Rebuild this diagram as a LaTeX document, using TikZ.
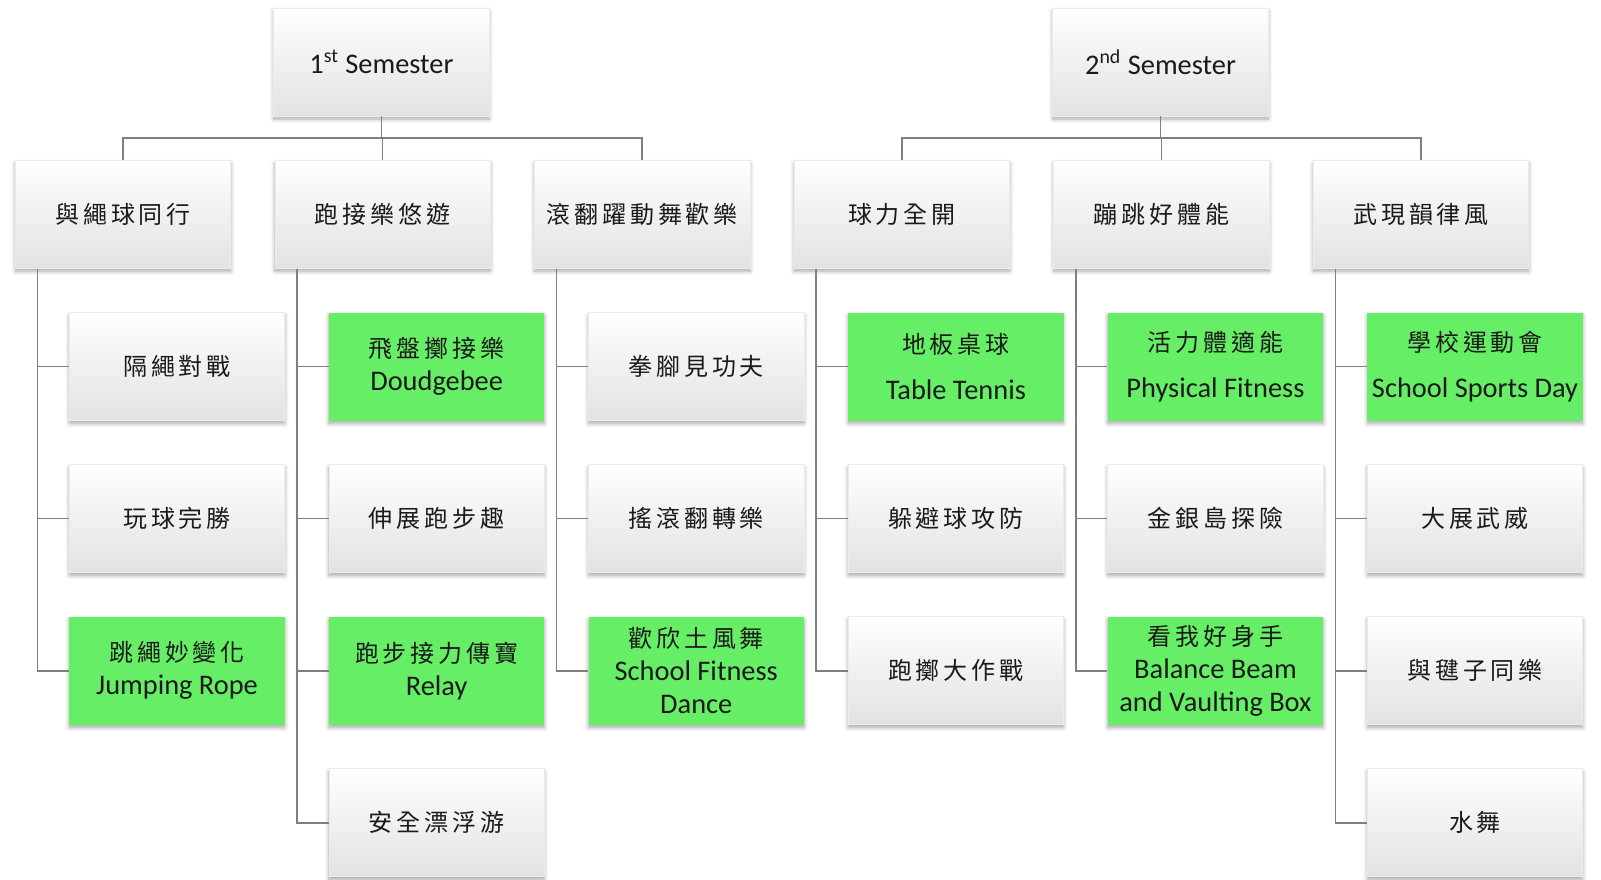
\documentclass[tikz,border=0pt]{standalone}
\usepackage{fontspec}
\setmainfont{Carlito}
\newfontfamily\cjk[LetterSpace=16]{Noto Sans CJK TC}
\usetikzlibrary{shadows.blur}
\definecolor{ink}{HTML}{1A1A1A}
\definecolor{leaf}{HTML}{66EE66}
\definecolor{wire}{HTML}{7F7F7F}
\definecolor{fade}{HTML}{E2E2E2}
\newcommand\zh[1]{{\cjk\fontsize{12}{16.5}\selectfont #1}}
\tikzset{
  box/.style={minimum width=107.75pt, minimum height=54pt, inner sep=1pt, align=center,
    text=ink, font=\fontsize{14.2}{16.5}\selectfont,
    blur shadow={shadow xshift=0pt, shadow yshift=-1.5pt, shadow blur radius=2pt,
      shadow blur steps=6, shadow opacity=35}},
  plain/.style={box, top color=white, middle color=white, bottom color=fade,
    draw=black!8, line width=0.4pt},
  hit/.style={box, fill=leaf},
  link/.style={draw=wire, line width=0.8pt},
}

\begin{document}
\begin{tikzpicture}[x=0.5pt,y=-0.5pt]
  \useasboundingbox (0,0) rectangle (1601,879);
  \def\w{259.6}
  \def\h{152.1}

  % semesters
  \node[plain] (sem1) at (381.4,62) {1\textsuperscript{st} Semester};
  \node[plain] (sem2) at (1160.5,62) {2\textsuperscript{nd} Semester};

  % themes
  \foreach \i/\t in {1/與繩球同行, 2/跑接樂悠遊, 3/滾翻躍動舞歡樂,
                     4/球力全開, 5/蹦跳好體能, 6/武現韻律風}
    \node[plain] (g\i) at ({123.05+(\i-1)*\w},214.3) {\zh{\t}};

  % activities
  \foreach \i/\j/\s/\t in {
      1/1/plain/{\zh{隔繩對戰}},
      1/2/plain/{\zh{玩球完勝}},
      1/3/hit/{\zh{跳繩妙變化}\\Jumping Rope},
      2/1/hit/{\zh{飛盤擲接樂}\\Doudgebee},
      2/2/plain/{\zh{伸展跑步趣}},
      2/3/hit/{\zh{跑步接力傳寶}\\Relay},
      2/4/plain/{\zh{安全漂浮游}},
      3/1/plain/{\zh{拳腳見功夫}},
      3/2/plain/{\zh{搖滾翻轉樂}},
      3/3/hit/{\zh{歡欣土風舞}\\School Fitness\\Dance},
      4/1/hit/{\zh{地板桌球}\\[6.5pt]Table Tennis},
      4/2/plain/{\zh{躲避球攻防}},
      4/3/plain/{\zh{跑擲大作戰}},
      5/1/hit/{\zh{活力體適能}\\[6.5pt]Physical Fitness},
      5/2/plain/{\zh{金銀島探險}},
      5/3/hit/{\zh{看我好身手}\\Balance Beam\\and Vaulting Box},
      6/1/hit/{\zh{學校運動會}\\[6.5pt]School Sports Day},
      6/2/plain/{\zh{大展武威}},
      6/3/plain/{\zh{與毽子同樂}},
      6/4/plain/{\zh{水舞}}}
  {
    \node[\s] (c\i\j) at ({177.05+(\i-1)*\w},{366.5+(\j-1)*\h}) {\t};
    \draw[link] ([xshift=11.25pt]g\i.south west) |- (c\i\j.west);
  }

  % bus lines
  \foreach \i in {1,2,3}
    \draw[link] (sem1.south) -- ++(0,21.7) -| (g\i.north);
  \foreach \i in {4,5,6}
    \draw[link] (sem2.south) -- ++(0,21.7) -| (g\i.north);
\end{tikzpicture}
\end{document}
